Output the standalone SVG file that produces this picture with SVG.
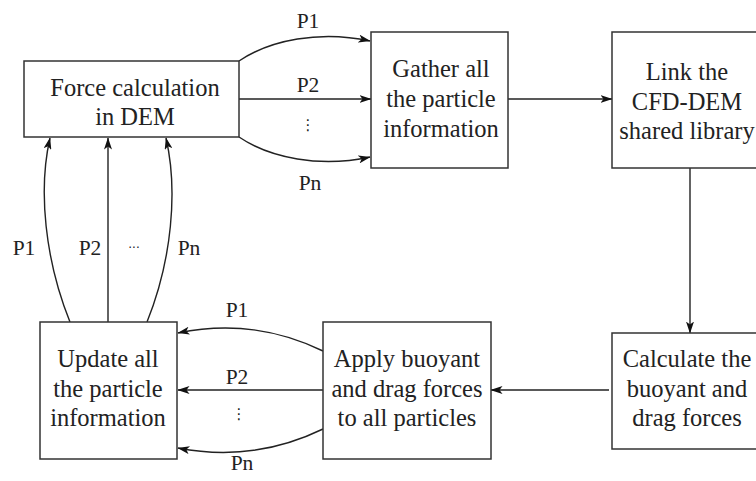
<svg xmlns="http://www.w3.org/2000/svg" width="756" height="481" viewBox="0 0 756 481">
<defs>
<marker id="ah" viewBox="0 0 12 8" refX="11.5" refY="4" markerWidth="12" markerHeight="8" markerUnits="userSpaceOnUse" orient="auto">
<path d="M0,0 L12,4 L0,8 L3,4 Z" fill="#111"/>
</marker>
<style>
.box{fill:#fff;stroke:#333;stroke-width:1.5}
.t{font-size:24.5px;fill:#222;text-anchor:middle}
.l{font-size:21.5px;fill:#222;text-anchor:middle}
.d{font-size:15px;fill:#222;text-anchor:middle}
.c{fill:none;stroke:#222;stroke-width:1.4;marker-end:url(#ah)}
</style>
</defs>
<rect width="756" height="481" fill="#fff"/>
<g id="connectors">
<path class="c" d="M239,61 C270,40 320,30 370,41"/>
<path class="c" d="M239,99 L371,99"/>
<path class="c" d="M239,137 C270,158 320,168 370,157"/>
<path class="c" d="M508,99 L612,99"/>
<path class="c" d="M690,168 L690,333"/>
<path class="c" d="M609,390 L491,390"/>
<path class="c" d="M323,351 C290,335 240,320 178,333"/>
<path class="c" d="M323,390 L178,390"/>
<path class="c" d="M323,429 C290,445 240,460 178,448"/>
<path class="c" d="M70,322 C45,260 38,190 50,138"/>
<path class="c" d="M108,322 L108,138"/>
<path class="c" d="M147,322 C172,260 178,190 166,138"/>
<g font-family="'Liberation Serif', 'Times New Roman', serif">
<text class="l" x="308" y="28">P1</text>
<text class="l" x="308" y="92">P2</text>
<text class="l" x="310" y="190">Pn</text>
<text class="l" x="24" y="255">P1</text>
<text class="l" x="90" y="255">P2</text>
<text class="l" x="189" y="255">Pn</text>
<text class="l" x="237" y="317">P1</text>
<text class="l" x="237" y="384">P2</text>
<text class="l" x="242" y="470">Pn</text>
</g>
<g font-family="'DejaVu Sans', sans-serif">
<text class="d" x="308" y="130">⋮</text>
<text class="d" x="134" y="252" style="font-size:12px">···</text>
<text class="d" x="239" y="419">⋮</text>
</g>
</g>
<g font-family="'Liberation Serif', 'Times New Roman', serif">
<g id="force">
<rect class="box" x="24" y="61" width="215" height="76"/>
<text class="t" x="135" y="96">Force calculation</text>
<text class="t" x="135" y="125">in DEM</text>
</g>
<g id="gather">
<rect class="box" x="371" y="32" width="137" height="136"/>
<text class="t" x="441" y="77">Gather all</text>
<text class="t" x="441" y="107">the particle</text>
<text class="t" x="441" y="137">information</text>
</g>
<g id="link">
<rect class="box" x="612" y="32" width="150" height="136"/>
<text class="t" x="687" y="80">Link the</text>
<text class="t" x="687" y="110">CFD-DEM</text>
<text class="t" x="687" y="139">shared library</text>
</g>
<g id="calculate">
<rect class="box" x="612" y="333" width="150" height="116"/>
<text class="t" x="687" y="367">Calculate the</text>
<text class="t" x="687" y="397">buoyant and</text>
<text class="t" x="687" y="426">drag forces</text>
</g>
<g id="apply">
<rect class="box" x="323" y="322" width="168" height="137"/>
<text class="t" x="407" y="367">Apply buoyant</text>
<text class="t" x="407" y="397">and drag forces</text>
<text class="t" x="407" y="426">to all particles</text>
</g>
<g id="update">
<rect class="box" x="40" y="322" width="137" height="137"/>
<text class="t" x="108" y="367">Update all</text>
<text class="t" x="108" y="397">the particle</text>
<text class="t" x="108" y="426">information</text>
</g>
</g>
</svg>
